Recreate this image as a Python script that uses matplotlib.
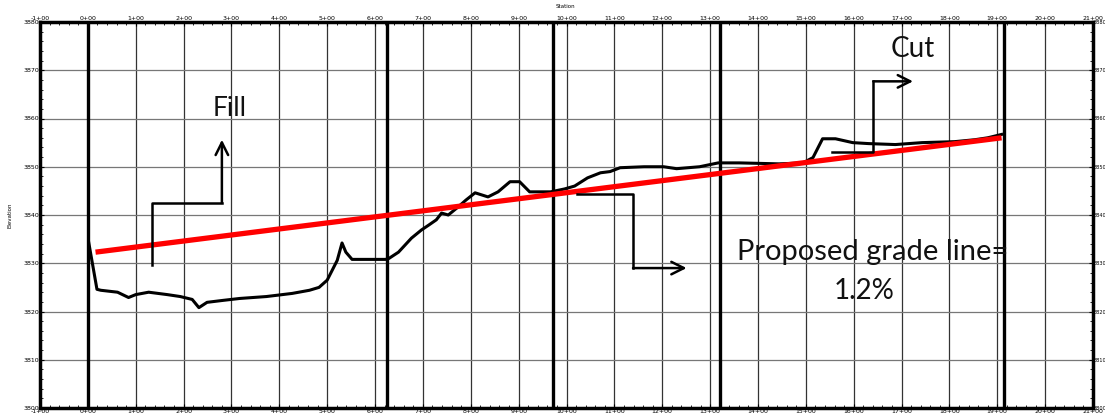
import matplotlib
matplotlib.use("Agg")
import matplotlib.pyplot as plt
from matplotlib.ticker import MultipleLocator, FuncFormatter

# ---- data ----
station = [2, 19, 27, 62, 85, 100, 127, 166, 193, 218, 232, 249, 282, 317, 373, 427,
           463, 483, 500, 521, 531, 539, 552, 622, 629, 649, 676, 697, 712, 728, 739,
           753, 774, 790, 809, 836, 857, 882, 902, 923, 946, 967, 996, 1017, 1044,
           1071, 1091, 1112, 1162, 1203, 1230, 1278, 1317, 1361, 1444, 1494, 1515,
           1535, 1562, 1598, 1631, 1687, 1743, 1811, 1853, 1880, 1909]
elevation = [3834.2, 3824.6, 3824.4, 3824.0, 3822.9, 3823.5, 3824.0, 3823.5, 3823.1,
             3822.5, 3820.8, 3821.9, 3822.3, 3822.7, 3823.1, 3823.75, 3824.4, 3825.0,
             3826.5, 3830.6, 3834.2, 3832.3, 3830.8, 3830.8, 3831.0, 3832.3, 3835.2,
             3836.9, 3837.9, 3839.0, 3840.4, 3840.0, 3841.7, 3843.1, 3844.6, 3843.75,
             3844.8, 3846.9, 3846.9, 3844.8, 3844.8, 3844.8, 3845.4, 3846.0, 3847.7,
             3848.75, 3849.0, 3849.8, 3850.0, 3850.0, 3849.6, 3850.0, 3850.8, 3850.8,
             3850.6, 3850.8, 3851.9, 3855.8, 3855.8, 3855.0, 3854.8, 3854.6, 3855.0,
             3855.2, 3855.6, 3856.0, 3856.7]

grade_station = [16, 1909]
grade_elev = [3832.3, 3856.0]

break_stations = [0, 624, 971, 1320, 1915]

fill_arrow_x = [133, 133, 280, 280]
fill_arrow_y = [3829.6, 3842.5, 3842.5, 3855.6]
cut_arrow_x = [1554, 1641, 1641, 1724]
cut_arrow_y = [3853.1, 3853.1, 3867.7, 3867.7]
grade_arrow_x = [1021, 1139, 1139, 1251]
grade_arrow_y = [3844.4, 3844.4, 3829.0, 3829.0]

x_ticks = list(range(-100, 2101, 100))
y_ticks = list(range(3800, 3881, 10))

# ---- figure ----
fig = plt.figure(figsize=(11.05, 4.17), dpi=100)
ax = fig.add_axes([40/1105, 1-408/417, (1093-40)/1105, (408-22)/417])
ax.set_xlim(-100, 2100)
ax.set_ylim(3800, 3880)

def sta_fmt(v, pos):
    v = int(round(v))
    if v < 0:
        return "-%d+00" % (abs(v)//100)
    return "%d+00" % (v//100)

ax.set_xticks(x_ticks)
ax.xaxis.set_major_formatter(FuncFormatter(sta_fmt))
ax.xaxis.set_minor_locator(MultipleLocator(20))
ax.set_yticks(y_ticks)
ax.yaxis.set_minor_locator(MultipleLocator(2))
ax.tick_params(axis="both", which="major", labelsize=4.5, length=3, width=0.8,
               top=True, right=True, labeltop=True, labelright=True, pad=1,
               direction="in")
ax.tick_params(axis="y", which="major", labelright=True, pad=0.5)
ax.tick_params(axis="both", which="minor", length=2, width=0.6, top=True,
               right=True, direction="in")
for s in ax.spines.values():
    s.set_linewidth(2.5)

ax.grid(True, axis="x", which="major", color="#333333", linewidth=0.9)
ax.grid(True, axis="y", which="major", color="#777777", linewidth=0.9)

for b in break_stations:
    ax.axvline(b, color="black", linewidth=2.4, zorder=3)

ax.plot(station, elevation, color="black", linewidth=2.2, zorder=4)
ax.plot(grade_station, grade_elev, color="#ff0000", linewidth=3.8,
        solid_capstyle="butt", zorder=5)

# annotation arrows
def elbow(xs, ys):
    ax.plot(xs[:-1], ys[:-1], color="black", linewidth=1.8, zorder=6)
    ax.annotate("", xy=(xs[-1], ys[-1]), xytext=(xs[-2], ys[-2]),
                arrowprops=dict(arrowstyle="->,head_length=0.9,head_width=0.45",
                                color="black", lw=1.8, shrinkA=0, shrinkB=0),
                zorder=6)

elbow(fill_arrow_x, fill_arrow_y)
elbow(cut_arrow_x, cut_arrow_y)
elbow(grade_arrow_x, grade_arrow_y)

tfont = dict(family=["Lato", "DejaVu Sans"], color="#111111")
ax.text(297, 3862, "Fill", ha="center", va="center", fontsize=19, **tfont)
ax.text(1724, 3874.4, "Cut", ha="center", va="center", fontsize=20, **tfont)
ax.text(1640, 3832.3, "Proposed grade line=", ha="center", va="center",
        fontsize=21, **tfont)
ax.text(1622, 3824.2, "1.2%", ha="center", va="center", fontsize=20, **tfont)

fig.text(565/1105, 1-6/417, "Station", fontsize=4, ha="center", va="center")
fig.text(10/1105, 1-215/417, "Elevation", fontsize=4, ha="center", va="center",
         rotation=90)

# keep right-hand elevation labels inside the canvas
for t in ax.yaxis.get_major_ticks():
    t.label2.set_fontsize(3.6)
fig.savefig("out.png", dpi=100)
